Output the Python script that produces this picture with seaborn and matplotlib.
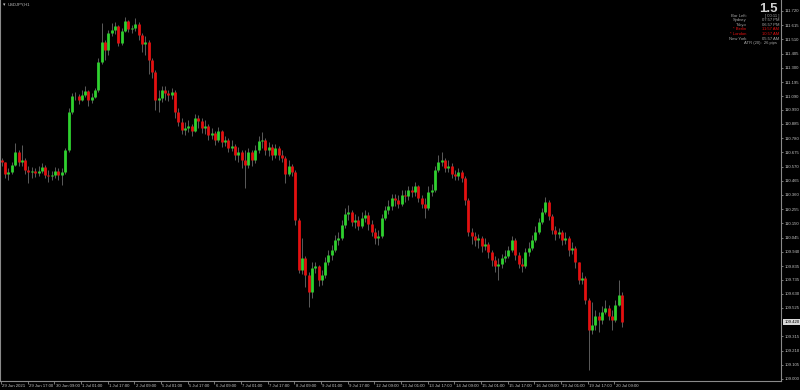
import numpy as np
import pandas as pd
import matplotlib
matplotlib.use("Agg")
import matplotlib.pyplot as plt
from matplotlib.transforms import ScaledTranslation, blended_transform_factory
import seaborn as sns
import seaborn.objects as so

# ---------------- data (USDJPY, 2-hour candles) ----------------
symbol = "USDJPY,H1"
first_open = 110.618
close = [
    110.604, 110.515, 110.530, 110.581, 110.678, 110.604, 110.618, 110.545, 110.530, 110.537,
    110.522, 110.537, 110.567, 110.508, 110.500, 110.508, 110.537, 110.508, 110.530, 110.692,
    110.973, 111.091, 111.091, 111.062, 111.099, 111.128, 111.062, 111.084, 111.136, 111.343,
    111.491, 111.431, 111.557, 111.579, 111.609, 111.483, 111.572, 111.646, 111.587, 111.594,
    111.624, 111.542, 111.476, 111.491, 111.358, 111.269, 111.062, 111.077, 111.136, 111.114,
    111.099, 111.121, 110.973, 110.899, 110.840, 110.855, 110.870, 110.833, 110.929, 110.907,
    110.855, 110.870, 110.803, 110.818, 110.766, 110.833, 110.751, 110.766, 110.707, 110.722,
    110.655, 110.678, 110.618, 110.581, 110.678, 110.618, 110.692, 110.759, 110.766, 110.692,
    110.715, 110.655, 110.707, 110.655, 110.633, 110.515, 110.574, 110.530, 110.175, 109.805,
    109.894, 109.768, 109.643, 109.820, 109.835, 109.731, 109.768, 109.865, 109.916, 109.953,
    110.027, 110.042, 110.138, 110.219, 110.234, 110.160, 110.175, 110.131, 110.190, 110.212,
    110.145, 110.086, 110.042, 110.057, 110.190, 110.249, 110.278, 110.338, 110.323, 110.293,
    110.360, 110.352, 110.397, 110.382, 110.426, 110.338, 110.293, 110.264, 110.382, 110.397,
    110.545, 110.604, 110.618, 110.559, 110.574, 110.515, 110.500, 110.530, 110.485, 110.323,
    110.086, 110.057, 110.027, 110.042, 109.983, 109.998, 109.938, 109.879, 109.835, 109.850,
    109.894, 109.909, 109.953, 110.027, 109.916, 109.850, 109.835, 109.938, 109.968, 110.027,
    110.086, 110.160, 110.234, 110.308, 110.205, 110.101, 110.071, 110.086, 110.027, 110.042,
    109.953, 109.968, 109.865, 109.731, 109.746, 109.584, 109.362, 109.399, 109.465, 109.436,
    109.495, 109.525, 109.465, 109.436, 109.547, 109.621, 109.420,
]
high = [
    110.633, 110.604, 110.559, 110.604, 110.744, 110.692, 110.729, 110.633, 110.574, 110.567,
    110.559, 110.574, 110.596, 110.581, 110.545, 110.537, 110.567, 110.559, 110.559, 110.707,
    111.003, 111.114, 111.121, 111.106, 111.136, 111.165, 111.136, 111.114, 111.151, 111.372,
    111.631, 111.505, 111.579, 111.631, 111.639, 111.616, 111.594, 111.676, 111.653, 111.616,
    111.668, 111.639, 111.557, 111.535, 111.505, 111.372, 111.284, 111.136, 111.165, 111.165,
    111.136, 111.151, 111.136, 111.003, 110.929, 110.899, 110.914, 110.885, 110.958, 110.951,
    110.929, 110.914, 110.885, 110.855, 110.833, 110.862, 110.840, 110.796, 110.781, 110.766,
    110.737, 110.715, 110.692, 110.692, 110.707, 110.692, 110.729, 110.796, 110.825, 110.781,
    110.751, 110.737, 110.737, 110.722, 110.692, 110.648, 110.618, 110.589, 110.545, 110.190,
    110.042, 109.909, 109.791, 109.865, 109.865, 109.842, 109.805, 109.901, 109.953, 109.990,
    110.064, 110.086, 110.175, 110.264, 110.286, 110.249, 110.219, 110.205, 110.234, 110.249,
    110.234, 110.175, 110.116, 110.101, 110.219, 110.278, 110.323, 110.367, 110.367, 110.360,
    110.397, 110.397, 110.426, 110.426, 110.456, 110.434, 110.360, 110.338, 110.426, 110.441,
    110.574, 110.655, 110.678, 110.633, 110.618, 110.596, 110.545, 110.559, 110.545, 110.500,
    110.338, 110.116, 110.086, 110.071, 110.057, 110.042, 110.012, 109.953, 109.909, 109.894,
    109.924, 109.953, 109.983, 110.057, 110.042, 109.938, 109.894, 109.968, 110.012, 110.064,
    110.131, 110.190, 110.264, 110.345, 110.323, 110.219, 110.131, 110.116, 110.101, 110.086,
    110.057, 110.012, 109.983, 109.865, 109.791, 109.761, 109.598, 109.569, 109.510, 109.495,
    109.539, 109.584, 109.547, 109.510, 109.584, 109.731, 109.643,
]
low = [
    110.574, 110.485, 110.471, 110.515, 110.574, 110.574, 110.574, 110.515, 110.448, 110.485,
    110.493, 110.500, 110.522, 110.485, 110.456, 110.471, 110.485, 110.471, 110.434, 110.515,
    110.678, 110.958, 111.062, 111.032, 111.055, 111.084, 111.018, 111.040, 111.077, 111.121,
    111.328, 111.358, 111.395, 111.535, 111.550, 111.461, 111.468, 111.565, 111.565, 111.557,
    111.572, 111.505, 111.417, 111.395, 111.254, 111.225, 110.988, 110.973, 111.047, 111.062,
    111.055, 111.069, 110.929, 110.870, 110.811, 110.803, 110.825, 110.796, 110.825, 110.855,
    110.818, 110.811, 110.766, 110.774, 110.729, 110.751, 110.715, 110.722, 110.678, 110.685,
    110.618, 110.604, 110.559, 110.411, 110.559, 110.574, 110.596, 110.670, 110.707, 110.655,
    110.648, 110.618, 110.633, 110.618, 110.604, 110.448, 110.500, 110.500, 110.138, 109.783,
    109.776, 109.680, 109.532, 109.598, 109.783, 109.687, 109.695, 109.746, 109.842, 109.879,
    109.938, 109.990, 110.027, 110.116, 110.175, 110.131, 110.116, 110.101, 110.116, 110.160,
    110.101, 110.057, 109.998, 109.990, 110.042, 110.175, 110.219, 110.249, 110.278, 110.264,
    110.278, 110.308, 110.323, 110.345, 110.352, 110.308, 110.264, 110.190, 110.249, 110.352,
    110.382, 110.530, 110.574, 110.530, 110.530, 110.485, 110.471, 110.471, 110.456, 110.286,
    110.057, 109.998, 109.983, 109.968, 109.938, 109.953, 109.894, 109.835, 109.791, 109.731,
    109.820, 109.865, 109.894, 109.938, 109.879, 109.820, 109.791, 109.820, 109.909, 109.953,
    110.012, 110.071, 110.145, 110.219, 110.175, 110.071, 110.027, 110.042, 109.990, 109.998,
    109.909, 109.924, 109.820, 109.702, 109.702, 109.554, 109.066, 109.332, 109.362, 109.347,
    109.406, 109.480, 109.436, 109.362, 109.421, 109.539, 109.384,
]
hours_per_candle = 2
hours_per_label = 16

x_tick_labels = [
    "29 Jun 2021", "29 Jun 17:00", "30 Jun 09:00", "1 Jul 01:00", "1 Jul 17:00",
    "2 Jul 09:00", "5 Jul 01:00", "5 Jul 17:00", "6 Jul 09:00", "7 Jul 01:00",
    "7 Jul 17:00", "8 Jul 09:00", "9 Jul 01:00", "9 Jul 17:00", "12 Jul 09:00",
    "13 Jul 01:00", "13 Jul 17:00", "14 Jul 09:00", "15 Jul 01:00", "15 Jul 17:00",
    "16 Jul 09:00", "19 Jul 01:00", "19 Jul 17:00", "20 Jul 09:00",
]
y_ticks = [111.720, 111.615, 111.510, 111.405, 111.300, 111.195, 111.090, 110.990,
           110.885, 110.780, 110.675, 110.570, 110.465, 110.360, 110.255, 110.150,
           110.045, 109.940, 109.835, 109.735, 109.630, 109.525, 109.315, 109.210,
           109.105, 109.000]
last_price = 109.420

spread_text = "1.5"
info_labels = ["Bar Left:", "Sydney", "Tokyo", "* Berlin", "* London", "New York"]
info_values = ["[ 00:11 ]", "07:57 PM", "06:57 PM", "11:57 AM", "10:57 AM", "05:57 AM"]
info_red = [False, False, False, True, True, False]
atr_text = "ATR (20):  26 pips"

# ---------------- frame ----------------
n = len(close)
df = pd.DataFrame({
    "t": np.arange(n) * hours_per_candle + (hours_per_candle - 1) / 2,
    "open": [first_open] + close[:-1],
    "close": close,
    "high": high,
    "low": low,
})
df["high"] = df[["high", "open", "close"]].max(axis=1)
df["low"] = df[["low", "open", "close"]].min(axis=1)
df["body_lo"] = df[["open", "close"]].min(axis=1)
df["body_hi"] = df[["open", "close"]].max(axis=1)
df["dir"] = np.where(df["close"] >= df["open"], "up", "down")

# ---------------- style ----------------
sns.set_theme(style="dark")
plt.rcParams["font.family"] = ["Liberation Sans", "DejaVu Sans"]
plt.rcParams["lines.solid_capstyle"] = "butt"

BG = "black"
AXC = "#8a8a8a"
TXT = "#c4c4c4"
GREEN = "#2fd12f"
RED = "#e31010"
WICK = "#6a6a6a"

W, H = 800, 390
fig = plt.figure(figsize=(W / 100, H / 100), dpi=100, facecolor=BG)
ax = fig.add_axes([0, 9 / H, 781 / W, 381 / H], facecolor=BG)

(
    so.Plot(df, x="t")
    .add(so.Range(color=WICK, linewidth=0.6), ymin="low", ymax="high", legend=False)
    .add(so.Range(linewidth=2.0), ymin="body_lo", ymax="body_hi", color="dir", legend=False)
    .scale(color={"up": GREEN, "down": RED})
    .on(ax)
    .plot()
)

ax.set_facecolor(BG)
ax.grid(False)
ax.set_xlabel("")
ax.set_ylabel("")
ax.set_xlim(-0.6, 468.0)
ax.set_ylim(108.9852, 111.8013)

for s in ["top"]:
    ax.spines[s].set_visible(False)
for s in ["left", "right", "bottom"]:
    ax.spines[s].set_visible(True)
    ax.spines[s].set_color(AXC)
    ax.spines[s].set_linewidth(0.8)

# y axis on the right
ax.yaxis.tick_right()
ax.set_yticks(y_ticks)
ax.set_yticklabels([f"{v:.3f}" for v in y_ticks])
ax.tick_params(axis="y", which="both", left=False, right=True, labelleft=False,
               labelright=True, direction="out", length=1.6, width=0.6,
               colors=AXC, labelcolor=TXT, labelsize=3.1, pad=0.8)

# x axis labels every 16 hours, left aligned at the tick
ax.set_xticks(np.arange(len(x_tick_labels)) * hours_per_label)
ax.set_xticklabels(x_tick_labels, ha="left")
ax.tick_params(axis="x", which="both", bottom=True, top=False, direction="out",
               length=1.8, width=0.6, colors=AXC, labelcolor=TXT, labelsize=3.1, pad=0.6)
off = ScaledTranslation(1.5 / 100, 0, fig.dpi_scale_trans)
for lab in ax.get_xticklabels():
    lab.set_transform(lab.get_transform() + off)

# current price box
trans = blended_transform_factory(ax.transAxes, ax.transData)
ax.text(1.0, last_price, f"{last_price:.3f}", transform=trans + ScaledTranslation(3.5 / 100, 0, fig.dpi_scale_trans),
        ha="left", va="center", fontsize=3.1, color="black", clip_on=False,
        bbox=dict(boxstyle="square,pad=0.25", fc="#d8d8d8", ec="none"))

# symbol caption
fig.text(2.5 / W, 1 - 4.5 / H, "\u25be", color=TXT, fontsize=3.5, ha="left", va="center",
         family=["DejaVu Sans"])
fig.text(8 / W, 1 - 4.5 / H, symbol, color=TXT, fontsize=3.0, ha="left", va="center")

# info panel (top right)
fig.text(778 / W, 1 - 8.5 / H, spread_text, color="#d0d0d0", fontsize=9.5,
         fontweight="bold", ha="right", va="center")
row_y = [15.7, 20.2, 24.7, 29.2, 33.8, 38.6]
for yy, lab, val, red in zip(row_y, info_labels, info_values, info_red):
    c = RED if red else "#a8a8a8"
    fig.text(746.5 / W, 1 - yy / H, lab, color=c, fontsize=3.0, ha="right", va="center")
    fig.text(779 / W, 1 - yy / H, val, color=c, fontsize=3.0, ha="right", va="center")
fig.text(760.5 / W, 1 - 43.3 / H, atr_text, color="#a8a8a8", fontsize=3.0,
         ha="center", va="center")

fig.savefig("out.png", dpi=100, facecolor=BG)
